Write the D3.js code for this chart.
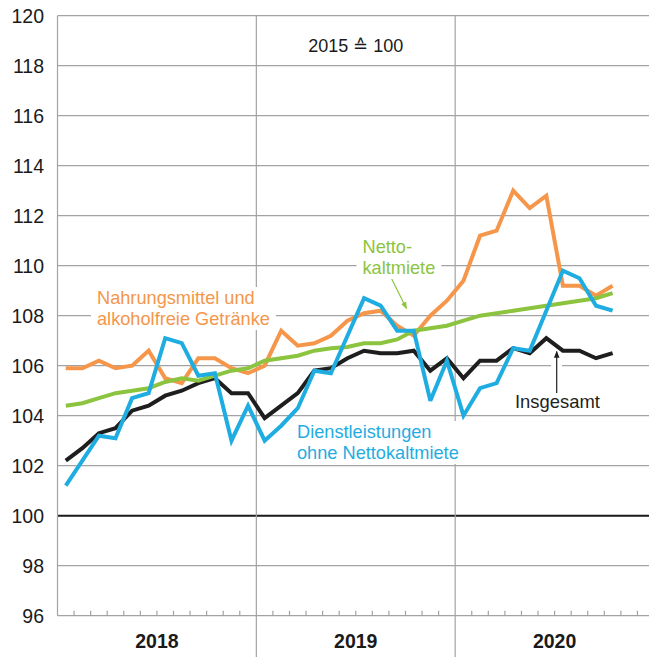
<!DOCTYPE html>
<html><head><meta charset="utf-8">
<script src="https://cdn.jsdelivr.net/npm/d3@7"></script>
<style>html,body{margin:0;padding:0;background:#fff;overflow:hidden}svg{display:block}text{font-family:"Liberation Sans",Arial,Helvetica,sans-serif}</style>
</head><body><svg id="c" width="649" height="657"></svg>
<script>
const years = ["2018","2019","2020"];
const yTicks = [96,98,100,102,104,106,108,110,112,114,116,118,120];
// Monthly values Jan 2018 – Oct 2020
const insgesamt = [102.2,102.7,103.3,103.5,104.2,104.4,104.8,105.0,105.3,105.5,104.9,104.9,
                   103.9,104.4,104.9,105.8,105.9,106.3,106.6,106.5,106.5,106.6,105.8,106.3,
                   105.5,106.2,106.2,106.7,106.5,107.1,106.6,106.6,106.3,106.5];
const nahrung   = [105.9,105.9,106.2,105.9,106.0,106.6,105.5,105.3,106.3,106.3,105.9,105.7,
                   106.0,107.4,106.8,106.9,107.2,107.8,108.1,108.2,107.6,107.2,108.0,108.6,
                   109.4,111.2,111.4,113.0,112.3,112.8,109.2,109.2,108.8,109.2];
const dienst    = [101.2,102.2,103.2,103.1,104.7,104.9,107.1,106.9,105.6,105.7,103.0,104.4,
                   103.0,103.6,104.3,105.8,105.7,107.2,108.7,108.4,107.4,107.4,104.6,106.2,
                   104.0,105.1,105.3,106.7,106.6,108.2,109.8,109.5,108.4,108.2];
const miete     = [104.4,104.5,104.7,104.9,105.0,105.1,105.35,105.5,105.4,105.6,105.8,105.9,
                   106.2,106.3,106.4,106.6,106.7,106.75,106.9,106.9,107.05,107.4,107.5,107.6,
                   107.8,108.0,108.1,108.2,108.3,108.4,108.5,108.6,108.7,108.9];

const svg = d3.select("#c");
const left = 57.5, monthW = 16.57;
const x = d3.scaleLinear().domain([0,36]).range([left, left + 36*monthW]);
const y = d3.scaleLinear().domain([96,120]).range([615.7, 15.7]);
const grid = "#a3a3a3";
const xEnd = 649;

// horizontal gridlines
svg.append("g").selectAll("line").data(yTicks).join("line")
  .attr("x1", left).attr("x2", xEnd)
  .attr("y1", d => y(d)).attr("y2", d => y(d))
  .attr("stroke", d => d === 100 ? "#1a1a1a" : grid)
  .attr("stroke-width", d => d === 100 ? 2 : 1.2);

// left axis
svg.append("line").attr("x1", left).attr("x2", left).attr("y1", y(120)).attr("y2", y(96))
  .attr("stroke", grid).attr("stroke-width", 1.2);
// year dividers
svg.append("g").selectAll("line").data([12,24]).join("line")
  .attr("x1", d => x(d)).attr("x2", d => x(d)).attr("y1", y(120)).attr("y2", 657)
  .attr("stroke", grid).attr("stroke-width", 1.2);
// month ticks
const months = d3.range(1,36).filter(m => m % 12 !== 0);
svg.append("g").selectAll("line").data(months).join("line")
  .attr("x1", d => x(d)).attr("x2", d => x(d)).attr("y1", y(96)).attr("y2", y(96) - 5)
  .attr("stroke", grid).attr("stroke-width", 1.2);

// y labels
svg.append("g").selectAll("text").data(yTicks).join("text")
  .attr("x", 44).attr("y", d => y(d)).attr("dy", "0.36em")
  .attr("text-anchor", "end").attr("font-size", 19.5).attr("fill", "#1a1a1a")
  .text(d => d);
// year labels
svg.append("g").selectAll("text").data(years).join("text")
  .attr("x", (d,i) => x(i*12 + 6)).attr("y", 648)
  .attr("text-anchor", "middle").attr("font-size", 19.5).attr("font-weight", "bold")
  .attr("fill", "#1a1a1a").text(d => d);

// base note
svg.append("text").attr("x", x(18)).attr("y", 52).attr("text-anchor", "middle")
  .attr("font-size", 18).attr("fill", "#1a1a1a").text("2015 \u2259 100");

const C = {black:"#1e1e1e", orange:"#f5964a", blue:"#1fadE1", green:"#8cc43f"};

function label(lines, x0, baselines, color, size) {
  const g = svg.append("g");
  const t = g.append("g");
  lines.forEach((s,i) => t.append("text").attr("x", x0).attr("y", baselines[i])
    .attr("font-size", size).attr("fill", color).text(s));
  const bb = t.node().getBBox();
  g.insert("rect", ":first-child").attr("x", bb.x - 6).attr("y", bb.y - 1)
    .attr("width", bb.width + 12).attr("height", bb.height + 2).attr("fill", "#fff");
}
label(["Nahrungsmittel und","alkoholfreie Getränke"], 97, [304, 325], C.orange, 18.2);
label(["Netto-","kaltmiete"], 362.5, [252.5, 273.5], C.green, 18.2);
label(["Dienstleistungen","ohne Nettokaltmiete"], 297, [438, 459], C.blue, 18.2);
label(["Insgesamt"], 515, [408.3], C.black, 18.4);

// arrows
const defs = svg.append("defs");
function marker(id, color) {
  defs.append("marker").attr("id", id).attr("viewBox", "0 0 10 10").attr("refX", 9).attr("refY", 5)
    .attr("markerWidth", 7).attr("markerHeight", 7).attr("markerUnits", "userSpaceOnUse").attr("orient", "auto")
    .append("path").attr("d", "M0,1 L10,5 L0,9 Z").attr("fill", color);
}
marker("ag", C.green); marker("ab", C.black);
svg.append("rect").attr("x", 551).attr("y", 352).attr("width", 11).attr("height", 40).attr("fill", "#fff");
svg.append("line").attr("x1", 391.7).attr("y1", 279).attr("x2", 406.5).attr("y2", 308.5)
  .attr("stroke", C.green).attr("stroke-width", 1.2).attr("marker-end", "url(#ag)");
svg.append("line").attr("x1", 556.7).attr("y1", 393).attr("x2", 556.7).attr("y2", 351.5)
  .attr("stroke", C.black).attr("stroke-width", 1.2).attr("marker-end", "url(#ab)");

// data lines
const line = d3.line().x((d,i) => x(i + 0.5)).y(d => y(d));
[[insgesamt, C.black],[nahrung, C.orange],[miete, C.green],[dienst, C.blue]].forEach(([data, col]) => {
  svg.append("path").datum(data).attr("d", line).attr("fill", "none")
    .attr("stroke", col).attr("stroke-width", 4).attr("stroke-linejoin", "miter")
    .attr("stroke-miterlimit", 3);
});
</script></body></html>
